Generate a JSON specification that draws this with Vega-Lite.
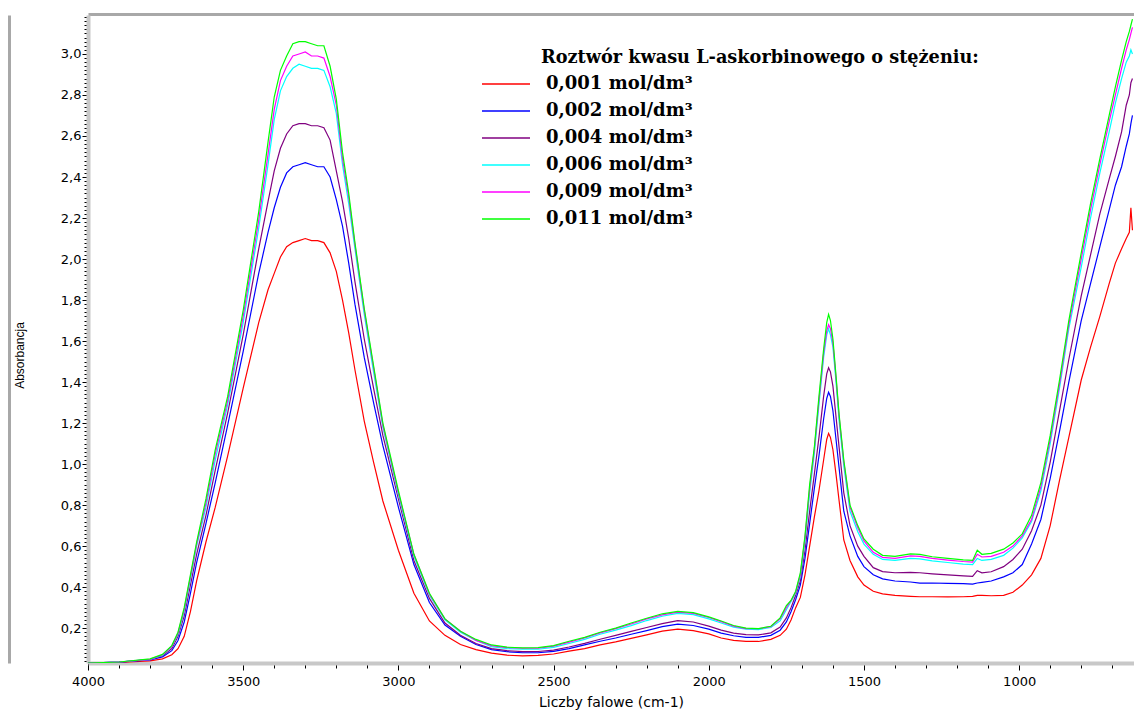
{
  "$schema": "https://vega.github.io/schema/vega-lite/v6.json",
  "width": 1046,
  "height": 648,
  "autosize": {"type": "none"},
  "padding": {"left": 88, "top": 15, "right": 0, "bottom": 52},
  "background": "white",
  "config": {"view": {"stroke": null}},
  "title": {
    "text": "Roztwór kwasu L-askorbinowego o stężeniu:",
    "anchor": "start", "frame": "group", "orient": "top", "offset": 0,
    "baseline": "alphabetic", "dx": 453, "dy": 70,
    "font": "DejaVu Serif", "fontSize": 17.7, "fontWeight": "bold", "color": "black"
  },
  "data": {"values": [
    {"wn":4000,"s001":0.03,"s002":0.03,"s004":0.03,"s006":0.03,"s009":0.03,"s011":0.03},
    {"wn":3900,"s001":0.033,"s002":0.034,"s004":0.034,"s006":0.035,"s009":0.035,"s011":0.035},
    {"wn":3800,"s001":0.04,"s002":0.045,"s004":0.047,"s006":0.048,"s009":0.048,"s011":0.05},
    {"wn":3760,"s001":0.05,"s002":0.06,"s004":0.065,"s006":0.068,"s009":0.07,"s011":0.072},
    {"wn":3730,"s001":0.07,"s002":0.09,"s004":0.1,"s006":0.11,"s009":0.11,"s011":0.115},
    {"wn":3710,"s001":0.1,"s002":0.14,"s004":0.16,"s006":0.17,"s009":0.175,"s011":0.18},
    {"wn":3690,"s001":0.16,"s002":0.23,"s004":0.26,"s006":0.28,"s009":0.29,"s011":0.3},
    {"wn":3670,"s001":0.28,"s002":0.37,"s004":0.41,"s006":0.44,"s009":0.45,"s011":0.46},
    {"wn":3650,"s001":0.43,"s002":0.52,"s004":0.56,"s006":0.6,"s009":0.61,"s011":0.62},
    {"wn":3620,"s001":0.62,"s002":0.71,"s004":0.75,"s006":0.79,"s009":0.81,"s011":0.83},
    {"wn":3590,"s001":0.79,"s002":0.91,"s004":0.97,"s006":1.02,"s009":1.05,"s011":1.07},
    {"wn":3550,"s001":1.04,"s002":1.19,"s004":1.25,"s006":1.29,"s009":1.31,"s011":1.33},
    {"wn":3500,"s001":1.37,"s002":1.55,"s004":1.63,"s006":1.69,"s009":1.72,"s011":1.75},
    {"wn":3450,"s001":1.69,"s002":1.93,"s004":2.05,"s006":2.15,"s009":2.19,"s011":2.23},
    {"wn":3420,"s001":1.85,"s002":2.13,"s004":2.28,"s006":2.46,"s009":2.51,"s011":2.57},
    {"wn":3400,"s001":1.93,"s002":2.25,"s004":2.43,"s006":2.68,"s009":2.73,"s011":2.79},
    {"wn":3380,"s001":2.01,"s002":2.35,"s004":2.54,"s006":2.82,"s009":2.87,"s011":2.92},
    {"wn":3360,"s001":2.06,"s002":2.42,"s004":2.61,"s006":2.89,"s009":2.94,"s011":2.99},
    {"wn":3340,"s001":2.08,"s002":2.45,"s004":2.65,"s006":2.93,"s009":2.99,"s011":3.05},
    {"wn":3320,"s001":2.09,"s002":2.46,"s004":2.66,"s006":2.95,"s009":3.0,"s011":3.06},
    {"wn":3300,"s001":2.1,"s002":2.47,"s004":2.66,"s006":2.94,"s009":3.01,"s011":3.06},
    {"wn":3280,"s001":2.09,"s002":2.46,"s004":2.65,"s006":2.93,"s009":2.99,"s011":3.05},
    {"wn":3260,"s001":2.09,"s002":2.45,"s004":2.65,"s006":2.93,"s009":2.99,"s011":3.04},
    {"wn":3240,"s001":2.08,"s002":2.45,"s004":2.64,"s006":2.92,"s009":2.98,"s011":3.04},
    {"wn":3220,"s001":2.03,"s002":2.4,"s004":2.58,"s006":2.84,"s009":2.89,"s011":2.94},
    {"wn":3200,"s001":1.94,"s002":2.29,"s004":2.43,"s006":2.71,"s009":2.75,"s011":2.78},
    {"wn":3180,"s001":1.8,"s002":2.16,"s004":2.28,"s006":2.46,"s009":2.49,"s011":2.52},
    {"wn":3160,"s001":1.64,"s002":1.98,"s004":2.1,"s006":2.27,"s009":2.3,"s011":2.32},
    {"wn":3140,"s001":1.46,"s002":1.78,"s004":1.89,"s006":2.05,"s009":2.07,"s011":2.08},
    {"wn":3110,"s001":1.21,"s002":1.52,"s004":1.61,"s006":1.73,"s009":1.75,"s011":1.76},
    {"wn":3080,"s001":1.01,"s002":1.3,"s004":1.37,"s006":1.45,"s009":1.47,"s011":1.48},
    {"wn":3050,"s001":0.82,"s002":1.09,"s004":1.14,"s006":1.18,"s009":1.19,"s011":1.2},
    {"wn":3000,"s001":0.58,"s002":0.79,"s004":0.83,"s006":0.85,"s009":0.86,"s011":0.87},
    {"wn":2950,"s001":0.37,"s002":0.51,"s004":0.53,"s006":0.55,"s009":0.56,"s011":0.56},
    {"wn":2900,"s001":0.235,"s002":0.325,"s004":0.345,"s006":0.36,"s009":0.365,"s011":0.37},
    {"wn":2850,"s001":0.165,"s002":0.215,"s004":0.225,"s006":0.24,"s009":0.245,"s011":0.245},
    {"wn":2800,"s001":0.12,"s002":0.16,"s004":0.165,"s006":0.18,"s009":0.185,"s011":0.185},
    {"wn":2750,"s001":0.095,"s002":0.12,"s004":0.125,"s006":0.14,"s009":0.14,"s011":0.145},
    {"wn":2700,"s001":0.078,"s002":0.095,"s004":0.1,"s006":0.11,"s009":0.115,"s011":0.118},
    {"wn":2650,"s001":0.068,"s002":0.085,"s004":0.09,"s006":0.1,"s009":0.105,"s011":0.107},
    {"wn":2600,"s001":0.065,"s002":0.08,"s004":0.085,"s006":0.097,"s009":0.102,"s011":0.104},
    {"wn":2550,"s001":0.067,"s002":0.08,"s004":0.086,"s006":0.097,"s009":0.102,"s011":0.105},
    {"wn":2500,"s001":0.074,"s002":0.087,"s004":0.093,"s006":0.106,"s009":0.112,"s011":0.115},
    {"wn":2450,"s001":0.088,"s002":0.1,"s004":0.108,"s006":0.125,"s009":0.132,"s011":0.136},
    {"wn":2400,"s001":0.1,"s002":0.118,"s004":0.126,"s006":0.145,"s009":0.152,"s011":0.155},
    {"wn":2350,"s001":0.118,"s002":0.136,"s004":0.146,"s006":0.17,"s009":0.177,"s011":0.18},
    {"wn":2300,"s001":0.133,"s002":0.152,"s004":0.165,"s006":0.19,"s009":0.198,"s011":0.2},
    {"wn":2250,"s001":0.15,"s002":0.17,"s004":0.184,"s006":0.212,"s009":0.22,"s011":0.225},
    {"wn":2200,"s001":0.167,"s002":0.188,"s004":0.203,"s006":0.237,"s009":0.245,"s011":0.248},
    {"wn":2150,"s001":0.185,"s002":0.207,"s004":0.222,"s006":0.258,"s009":0.265,"s011":0.27},
    {"wn":2100,"s001":0.195,"s002":0.22,"s004":0.237,"s006":0.272,"s009":0.278,"s011":0.282},
    {"wn":2050,"s001":0.188,"s002":0.213,"s004":0.23,"s006":0.266,"s009":0.272,"s011":0.276},
    {"wn":2000,"s001":0.172,"s002":0.195,"s004":0.21,"s006":0.245,"s009":0.252,"s011":0.255},
    {"wn":1960,"s001":0.152,"s002":0.176,"s004":0.19,"s006":0.225,"s009":0.232,"s011":0.235},
    {"wn":1920,"s001":0.14,"s002":0.163,"s004":0.176,"s006":0.205,"s009":0.21,"s011":0.213},
    {"wn":1880,"s001":0.135,"s002":0.155,"s004":0.168,"s006":0.195,"s009":0.198,"s011":0.2},
    {"wn":1840,"s001":0.135,"s002":0.155,"s004":0.167,"s006":0.193,"s009":0.197,"s011":0.198},
    {"wn":1800,"s001":0.145,"s002":0.165,"s004":0.177,"s006":0.203,"s009":0.207,"s011":0.209},
    {"wn":1770,"s001":0.165,"s002":0.19,"s004":0.205,"s006":0.235,"s009":0.245,"s011":0.25},
    {"wn":1750,"s001":0.195,"s002":0.23,"s004":0.25,"s006":0.29,"s009":0.3,"s011":0.31},
    {"wn":1735,"s001":0.24,"s002":0.28,"s004":0.3,"s006":0.33,"s009":0.335,"s011":0.335},
    {"wn":1720,"s001":0.3,"s002":0.34,"s004":0.36,"s006":0.37,"s009":0.375,"s011":0.38},
    {"wn":1705,"s001":0.35,"s002":0.41,"s004":0.43,"s006":0.45,"s009":0.46,"s011":0.47},
    {"wn":1690,"s001":0.46,"s002":0.54,"s004":0.58,"s006":0.62,"s009":0.64,"s011":0.65},
    {"wn":1675,"s001":0.6,"s002":0.71,"s004":0.77,"s006":0.86,"s009":0.88,"s011":0.9},
    {"wn":1660,"s001":0.74,"s002":0.88,"s004":0.95,"s006":1.05,"s009":1.07,"s011":1.08},
    {"wn":1645,"s001":0.87,"s002":1.04,"s004":1.13,"s006":1.29,"s009":1.31,"s011":1.33},
    {"wn":1630,"s001":1.02,"s002":1.22,"s004":1.33,"s006":1.52,"s009":1.54,"s011":1.56},
    {"wn":1620,"s001":1.12,"s002":1.32,"s004":1.44,"s006":1.63,"s009":1.65,"s011":1.69},
    {"wn":1614,"s001":1.15,"s002":1.35,"s004":1.47,"s006":1.66,"s009":1.68,"s011":1.73},
    {"wn":1608,"s001":1.13,"s002":1.33,"s004":1.45,"s006":1.63,"s009":1.66,"s011":1.7},
    {"wn":1600,"s001":1.07,"s002":1.26,"s004":1.38,"s006":1.57,"s009":1.59,"s011":1.61},
    {"wn":1590,"s001":0.95,"s002":1.12,"s004":1.23,"s006":1.4,"s009":1.42,"s011":1.43},
    {"wn":1580,"s001":0.82,"s002":0.98,"s004":1.08,"s006":1.21,"s009":1.23,"s011":1.24},
    {"wn":1565,"s001":0.63,"s002":0.77,"s004":0.86,"s006":0.99,"s009":1.01,"s011":1.02},
    {"wn":1545,"s001":0.53,"s002":0.65,"s004":0.7,"s006":0.77,"s009":0.79,"s011":0.8},
    {"wn":1520,"s001":0.45,"s002":0.55,"s004":0.6,"s006":0.67,"s009":0.69,"s011":0.7},
    {"wn":1500,"s001":0.41,"s002":0.5,"s004":0.55,"s006":0.61,"s009":0.625,"s011":0.635},
    {"wn":1470,"s001":0.38,"s002":0.46,"s004":0.495,"s006":0.56,"s009":0.57,"s011":0.585},
    {"wn":1440,"s001":0.367,"s002":0.44,"s004":0.476,"s006":0.535,"s009":0.545,"s011":0.555},
    {"wn":1400,"s001":0.36,"s002":0.43,"s004":0.47,"s006":0.53,"s009":0.54,"s011":0.55},
    {"wn":1350,"s001":0.355,"s002":0.425,"s004":0.472,"s006":0.54,"s009":0.552,"s011":0.562},
    {"wn":1320,"s001":0.353,"s002":0.42,"s004":0.47,"s006":0.538,"s009":0.55,"s011":0.56},
    {"wn":1280,"s001":0.353,"s002":0.42,"s004":0.465,"s006":0.528,"s009":0.54,"s011":0.548},
    {"wn":1230,"s001":0.352,"s002":0.418,"s004":0.46,"s006":0.52,"s009":0.532,"s011":0.54},
    {"wn":1180,"s001":0.353,"s002":0.417,"s004":0.455,"s006":0.512,"s009":0.525,"s011":0.533},
    {"wn":1150,"s001":0.355,"s002":0.415,"s004":0.452,"s006":0.51,"s009":0.522,"s011":0.53},
    {"wn":1135,"s001":0.36,"s002":0.42,"s004":0.48,"s006":0.54,"s009":0.56,"s011":0.58},
    {"wn":1120,"s001":0.36,"s002":0.423,"s004":0.47,"s006":0.53,"s009":0.547,"s011":0.56},
    {"wn":1090,"s001":0.358,"s002":0.43,"s004":0.475,"s006":0.535,"s009":0.55,"s011":0.565},
    {"wn":1050,"s001":0.36,"s002":0.45,"s004":0.5,"s006":0.555,"s009":0.57,"s011":0.585},
    {"wn":1020,"s001":0.375,"s002":0.47,"s004":0.535,"s006":0.59,"s009":0.6,"s011":0.615},
    {"wn":990,"s001":0.41,"s002":0.51,"s004":0.585,"s006":0.64,"s009":0.65,"s011":0.66},
    {"wn":960,"s001":0.46,"s002":0.61,"s004":0.675,"s006":0.72,"s009":0.73,"s011":0.75},
    {"wn":930,"s001":0.54,"s002":0.73,"s004":0.8,"s006":0.87,"s009":0.89,"s011":0.91},
    {"wn":900,"s001":0.7,"s002":0.93,"s004":1.01,"s006":1.1,"s009":1.12,"s011":1.14},
    {"wn":870,"s001":0.92,"s002":1.16,"s004":1.26,"s006":1.37,"s009":1.39,"s011":1.41},
    {"wn":840,"s001":1.13,"s002":1.4,"s004":1.51,"s006":1.66,"s009":1.68,"s011":1.7},
    {"wn":800,"s001":1.41,"s002":1.7,"s004":1.82,"s006":1.96,"s009":2.0,"s011":2.03},
    {"wn":770,"s001":1.57,"s002":1.88,"s004":2.02,"s006":2.2,"s009":2.24,"s011":2.27},
    {"wn":740,"s001":1.72,"s002":2.06,"s004":2.22,"s006":2.42,"s009":2.46,"s011":2.49},
    {"wn":710,"s001":1.88,"s002":2.24,"s004":2.39,"s006":2.62,"s009":2.67,"s011":2.7},
    {"wn":690,"s001":1.98,"s002":2.36,"s004":2.5,"s006":2.76,"s009":2.8,"s011":2.84},
    {"wn":670,"s001":2.05,"s002":2.45,"s004":2.62,"s006":2.88,"s009":2.93,"s011":2.97},
    {"wn":655,"s001":2.1,"s002":2.55,"s004":2.75,"s006":2.96,"s009":3.02,"s011":3.06},
    {"wn":645,"s001":2.13,"s002":2.61,"s004":2.8,"s006":2.99,"s009":3.07,"s011":3.11},
    {"wn":640,"s001":2.25,"s002":2.66,"s004":2.86,"s006":3.02,"s009":3.1,"s011":3.14},
    {"wn":635,"s001":2.14,"s002":2.7,"s004":2.88,"s006":3.0,"s009":3.13,"s011":3.17}
  ]},
  "transform": [
    {"fold": ["s001", "s002", "s004", "s006", "s009", "s011"], "as": ["conc", "A"]}
  ],
  "resolve": {"axis": {"x": "independent", "y": "independent"}},
  "layer": [
    {
      "mark": {"type": "point", "opacity": 0},
      "encoding": {
        "x": {
          "field": "wn", "type": "quantitative",
          "scale": {"domain": [4000, 630], "nice": false, "zero": false},
          "axis": {"orient": "top", "title": null, "labels": false, "ticks": false, "grid": false,
                   "domainColor": "#a8a8a8", "domainWidth": 3, "offset": 1}
        },
        "y": {
          "field": "A", "type": "quantitative",
          "scale": {"domain": [0.03, 3.19], "nice": false, "zero": false},
          "axis": {"orient": "left", "title": null, "labels": false, "ticks": false, "grid": false,
                   "domainColor": "#a8a8a8", "domainWidth": 3, "offset": 79}
        }
      }
    },
    {
      "mark": {"type": "line", "strokeWidth": 1.2, "clip": true},
      "encoding": {
        "x": {
          "field": "wn", "type": "quantitative",
          "scale": {"domain": [4000, 630], "nice": false, "zero": false},
          "axis": {
            "orient": "bottom",
            "title": "Liczby falowe (cm-1)",
            "tickCount": 34,
            "labelExpr": "datum.value % 500 == 0 ? format(datum.value, 'd') : ''",
            "labelOverlap": false,
            "labelFlush": false,
            "grid": false,
            "domainColor": "#c8c8c8", "domainWidth": 4,
            "tickColor": "black", "tickWidth": 1,
            "tickSize": {"condition": {"test": "datum.value % 500 == 0", "value": 7}, "value": 5},
            "labelFont": "DejaVu Sans", "labelFontSize": 13, "labelColor": "black", "labelPadding": 5,
            "titleFont": "DejaVu Sans", "titleFontSize": 14, "titleFontWeight": "normal", "titleColor": "black",
            "titlePadding": 7
          }
        },
        "y": {
          "field": "A", "type": "quantitative",
          "scale": {"domain": [0.03, 3.19], "nice": false, "zero": false},
          "axis": {
            "orient": "left",
            "title": "Absorbancja",
            "tickCount": 160,
            "labelExpr": "abs(datum.value * 5 - round(datum.value * 5)) < 0.001 ? replace(format(datum.value, '.1f'), '.', ',') : ''",
            "labelOverlap": false,
            "labelFlush": false,
            "grid": false,
            "domainColor": "#c8c8c8", "domainWidth": 4,
            "tickColor": "black", "tickWidth": 1,
            "tickSize": {"condition": {"test": "abs(datum.value * 5 - round(datum.value * 5)) < 0.001", "value": 6}, "value": 4},
            "labelFont": "DejaVu Sans", "labelFontSize": 13, "labelColor": "black", "labelPadding": 1,
            "titleFont": "Liberation Sans", "titleFontSize": 12, "titleFontWeight": "normal", "titleColor": "black",
            "titleX": -62, "titleY": 340
          }
        },
        "color": {
          "field": "conc", "type": "nominal",
          "scale": {
            "domain": ["s001", "s002", "s004", "s006", "s009", "s011"],
            "range": ["#ff0000", "#0000ff", "#800080", "#00ffff", "#ff00ff", "#00ff00"]
          },
          "legend": {
            "orient": "none", "legendX": 409, "legendY": 60,
            "title": null,
            "padding": 0,
            "symbolType": "M-4,0L4,0",
            "symbolSize": 144,
            "symbolStrokeWidth": 1.5,
            "labelOffset": 31,
            "rowPadding": 9,
            "labelFont": "DejaVu Serif", "labelFontSize": 18, "labelFontWeight": "bold", "labelColor": "black",
            "labelLimit": 400,
            "labelExpr": "datum.label == 's001' ? '0,001 mol/dm³' : datum.label == 's002' ? '0,002 mol/dm³' : datum.label == 's004' ? '0,004 mol/dm³' : datum.label == 's006' ? '0,006 mol/dm³' : datum.label == 's009' ? '0,009 mol/dm³' : '0,011 mol/dm³'"
          }
        }
      }
    }
  ]
}
